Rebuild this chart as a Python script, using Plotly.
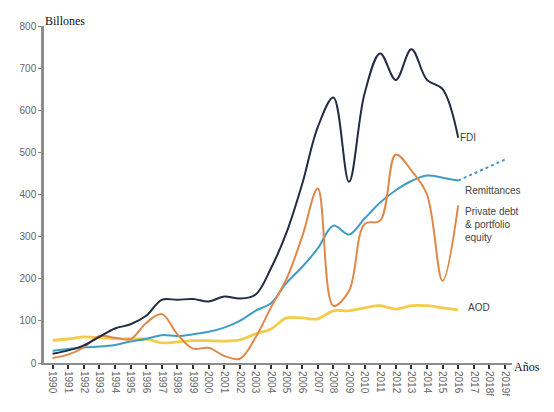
import plotly.graph_objects as go

years = list(range(1990, 2017))
tick_labels = [str(y) for y in range(1990, 2018)] + ["2018f", "2019f"]

fdi = [22, 30, 42, 62, 82, 92, 112, 150, 150, 152, 146, 158, 153, 162, 225, 310,
       425, 560, 630, 430, 640, 735, 672, 745, 672, 650, 535]
remittances = [29, 33, 37, 39, 43, 51, 57, 66, 64, 68, 74, 84, 100, 124, 142, 190,
               228, 272, 326, 305, 343, 381, 410, 432, 445, 440, 433]
remit_forecast_years = [2016, 2017, 2018, 2019]
remit_forecast = [433, 450, 466, 483]
private_debt = [12, 20, 37, 64, 60, 57, 95, 116, 68, 34, 36, 17, 10, 60, 132, 200,
                300, 414, 136, 171, 330, 338, 495, 457, 400, 195, 374]
aod = [54, 57, 62, 60, 58, 57, 57, 48, 50, 53, 53, 52, 55, 69, 81, 107,
       107, 105, 124, 124, 131, 136, 128, 136, 136, 131, 126]

navy = "#232b45"
blue = "#3f9cc4"
orange = "#e0884a"
yellow = "#f3cc4a"

fig = go.Figure()
fig.add_trace(go.Scatter(x=years, y=aod, mode="lines", name="AOD",
                         line=dict(color=yellow, width=2.8, shape="spline", smoothing=1)))
fig.add_trace(go.Scatter(x=years, y=remittances, mode="lines", name="Remittances",
                         line=dict(color=blue, width=2, shape="spline", smoothing=1)))
fig.add_trace(go.Scatter(x=remit_forecast_years, y=remit_forecast, mode="lines",
                         line=dict(color=blue, width=2, dash="dot")))
fig.add_trace(go.Scatter(x=years, y=private_debt, mode="lines", name="Private debt & portfolio equity",
                         line=dict(color=orange, width=2, shape="spline", smoothing=1)))
fig.add_trace(go.Scatter(x=years, y=fdi, mode="lines", name="FDI",
                         line=dict(color=navy, width=2, shape="spline", smoothing=1)))

narrow = "Liberation Sans Narrow, Arial Narrow, sans-serif"
label_font = dict(family=narrow, size=10, color="#444")
fig.add_annotation(x=2016.0, y=536, text="FDI", showarrow=False, xanchor="left", font=label_font)
fig.add_annotation(x=2016.3, y=410, text="Remittances", showarrow=False, xanchor="left", font=label_font)
fig.add_annotation(x=2016.3, y=329, text="Private debt<br>& portfolio<br>equity", showarrow=False,
                   xanchor="left", align="left", font=label_font)
fig.add_annotation(x=2016.5, y=131, text="AOD", showarrow=False, xanchor="left", font=label_font)

serif = dict(family="Liberation Serif, Times New Roman, serif", size=12, color="#111")
fig.add_annotation(x=0, y=1, xref="paper", yref="paper", text="Billones", showarrow=False,
                   xanchor="left", yanchor="bottom", xshift=-1, yshift=-4, font=serif)
fig.add_annotation(x=1, y=0, xref="paper", yref="paper", text="Años", showarrow=False,
                   xanchor="left", yanchor="middle", xshift=0, yshift=-4, font=serif)

fig.update_xaxes(range=[1989.45, 2019.45], tickvals=list(range(1990, 2020)), ticktext=tick_labels,
                 tickangle=90, ticks="outside", ticklen=4, tickwidth=2, tickcolor="#333",
                 showline=True, linecolor="#8c8c8c", linewidth=2, showgrid=False, zeroline=False,
                 tickfont=dict(family=narrow, size=10, color="#666"))
fig.update_yaxes(range=[0, 800], dtick=100, ticks="outside", ticklen=3, tickcolor="#8c8c8c",
                 showline=True, linecolor="#8c8c8c", linewidth=2.5, showgrid=False, zeroline=False,
                 tickfont=dict(family=narrow, size=10, color="#666"))
fig.update_layout(width=554, height=412, margin=dict(l=21, r=50, t=17, b=57),
                  plot_bgcolor="white", paper_bgcolor="white", showlegend=False)

fig.write_html("out.html")
